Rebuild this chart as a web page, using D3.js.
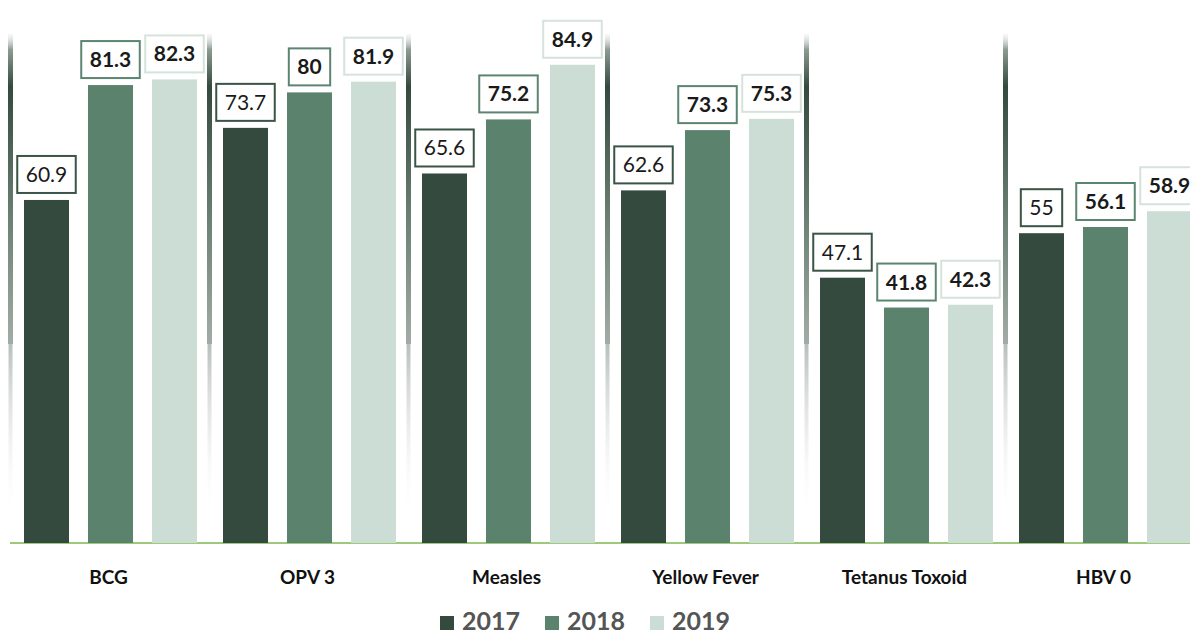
<!DOCTYPE html>
<html>
<head>
<meta charset="utf-8">
<script src="https://cdn.jsdelivr.net/npm/d3@7"></script>
<style>
  body { margin: 0; background: #fff; }
  svg { display: block; font-family: Lato, "Open Sans", sans-serif; }
</style>
</head>
<body>
<svg id="chart" width="1190" height="637"></svg>
<script>
// data
let categories = ["BCG", "OPV 3", "Measles", "Yellow Fever", "Tetanus Toxoid", "HBV 0"];
let years = ["2017", "2018", "2019"];
let values2017 = [60.9, 73.7, 65.6, 62.6, 47.1, 55];
let values2018 = [81.3, 80, 75.2, 73.3, 41.8, 56.1];
let values2019 = [82.3, 81.9, 84.9, 75.3, 42.3, 58.9];
let series = [values2017, values2018, values2019];

let barColors = ["#344a3e", "#5a826d", "#cbddd4"];
let boxColors = ["#3a5446", "#5b8570", "#d5e3db"];

let svg = d3.select("#chart");
let baseY = 543;

let x0 = d3.scaleBand()
    .domain(categories)
    .range([10.5, 10.5 + 6 * 199]);

let x1 = d3.scaleBand()
    .domain(years)
    .range([13.5, 186.5])
    .paddingInner(19 / 64);

let y = d3.scaleLinear()
    .domain([0, 96.4])
    .range([baseY, 0]);

// gradients for separators
let defs = svg.append("defs");
let g1 = defs.append("linearGradient").attr("id", "sepTop")
    .attr("x1", 0).attr("y1", 0).attr("x2", 0).attr("y2", 1);
g1.append("stop").attr("offset", "0%").attr("stop-color", "#d8dcda").attr("stop-opacity", 0.2);
g1.append("stop").attr("offset", "5%").attr("stop-color", "#8d9c93");
g1.append("stop").attr("offset", "17%").attr("stop-color", "#344a3e");
g1.append("stop").attr("offset", "60%").attr("stop-color", "#6c8174");
g1.append("stop").attr("offset", "100%").attr("stop-color", "#a2aca6");

let g2 = defs.append("linearGradient").attr("id", "sepBot")
    .attr("x1", 0).attr("y1", 0).attr("x2", 0).attr("y2", 1);
g2.append("stop").attr("offset", "0%").attr("stop-color", "#b8bfbb");
g2.append("stop").attr("offset", "100%").attr("stop-color", "#ffffff").attr("stop-opacity", 0);

// separators (group boundaries)
let seps = svg.append("g").attr("class", "seps")
    .selectAll("g")
    .data(categories)
    .enter().append("g")
    .attr("transform", d => "translate(" + x0(d) + ",0)");

seps.append("rect")
    .attr("x", -2.5).attr("width", 5)
    .attr("y", 34).attr("height", 310)
    .attr("fill", "url(#sepTop)");
seps.append("rect")
    .attr("x", -2).attr("width", 4)
    .attr("y", 344).attr("height", 180)
    .attr("fill", "url(#sepBot)");

// baseline
svg.append("line")
    .attr("x1", 10).attr("x2", 1190)
    .attr("y1", baseY).attr("y2", baseY)
    .attr("stroke", "#7cb84e").attr("stroke-width", 1.5);

// bars
let groups = svg.append("g").attr("class", "bars")
    .selectAll("g")
    .data(categories)
    .enter().append("g")
    .attr("transform", d => "translate(" + x0(d) + ",0)");

let cells = groups.selectAll("g")
    .data((d, i) => years.map((yr, j) => ({ yr: yr, j: j, v: series[j][i] })))
    .enter().append("g");

cells.append("rect")
    .attr("x", d => x1(d.yr))
    .attr("width", x1.bandwidth())
    .attr("y", d => y(d.v))
    .attr("height", d => baseY - y(d.v))
    .attr("fill", d => barColors[d.j]);

// value labels in boxes
cells.each(function(d) {
    let cell = d3.select(this);
    let cx = x1(d.yr) + x1.bandwidth() / 2;
    let bottom = y(d.v) - 7;
    let txt = cell.append("text")
        .attr("x", cx)
        .attr("y", bottom - 11)
        .attr("text-anchor", "middle")
        .attr("font-size", 21)
        .attr("font-weight", d.j == 0 ? "normal" : "bold")
        .attr("fill", "#1a1a1a")
        .text(d.v);
    let w = txt.node().getComputedTextLength() + 17;
    cell.insert("rect", "text")
        .attr("x", cx - w / 2)
        .attr("y", bottom - 37)
        .attr("width", w)
        .attr("height", 37)
        .attr("fill", "#fff")
        .attr("stroke", boxColors[d.j])
        .attr("stroke-width", 2);
});

// category labels
svg.append("g").selectAll("text")
    .data(categories)
    .enter().append("text")
    .attr("x", d => x0(d) + (x1.range()[0] + x1.range()[1]) / 2 - 2)
    .attr("y", 584)
    .attr("text-anchor", "middle")
    .attr("font-size", 19)
    .attr("font-weight", "bold")
    .attr("fill", "#111")
    .text(d => d);

// legend
let legend = svg.append("g").attr("transform", "translate(440,0)")
    .selectAll("g")
    .data(years)
    .enter().append("g")
    .attr("transform", (d, i) => "translate(" + (i * 105) + ",0)");

legend.append("rect")
    .attr("x", 0).attr("y", 616)
    .attr("width", 14).attr("height", 14)
    .attr("fill", (d, i) => barColors[i]);

legend.append("text")
    .attr("x", 22).attr("y", 630)
    .attr("font-size", 25)
    .attr("font-weight", "bold")
    .attr("fill", "#555")
    .text(d => d);
</script>
</body>
</html>
